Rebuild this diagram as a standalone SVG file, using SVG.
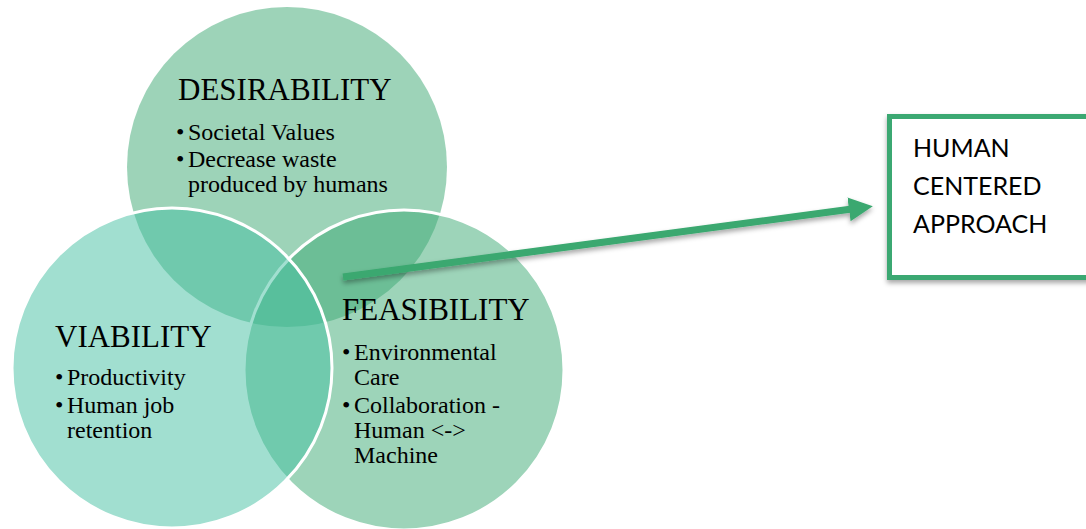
<svg xmlns="http://www.w3.org/2000/svg" width="1086" height="529" viewBox="0 0 1086 529">
  <defs>
    <style>
      .venn { fill-opacity: 0.5; }
      .edge { stroke: #ffffff; stroke-width: 3; }
      .title { font-family: "Liberation Serif", "Times New Roman", serif; font-size: 31px; fill: #000000; }
      .item { font-family: "Liberation Serif", "Times New Roman", serif; font-size: 24px; fill: #000000; }
      .box-text { font-family: Lato, "Liberation Sans", sans-serif; font-size: 25px; fill: #000000; }
    </style>
    <filter id="soft-shadow" x="-10%" y="-30%" width="120%" height="160%">
      <feDropShadow dx="0" dy="3" stdDeviation="2.5" flood-color="#000000" flood-opacity="0.35"/>
    </filter>
    <marker id="arrow-head" viewBox="0 0 24 24" markerWidth="24" markerHeight="24" markerUnits="userSpaceOnUse" refX="1" refY="12" orient="auto">
      <path d="M0,0 L24,12 L0,24 Z" fill="#3aa86f"/>
    </marker>
  </defs>

  <!-- Top circle -->
  <g id="desirability">
    <circle class="venn" cx="287" cy="167" r="160" fill="#3ba771"/>
    <text class="title" x="178" y="100">DESIRABILITY</text>
    <text class="item" x="176" y="140">•</text>
    <text class="item" x="188" y="140">Societal Values</text>
    <text class="item" x="176" y="167">•</text>
    <text class="item" x="188" y="167">Decrease waste</text>
    <text class="item" x="188" y="192">produced by humans</text>
  </g>

  <!-- Lower right circle -->
  <g id="feasibility">
    <circle class="venn edge" cx="404" cy="370" r="160" fill="#3ba973"/>
    <text class="title" x="342" y="320">FEASIBILITY</text>
    <text class="item" x="342" y="360">•</text>
    <text class="item" x="354" y="360">Environmental</text>
    <text class="item" x="354" y="385">Care</text>
    <text class="item" x="342" y="413">•</text>
    <text class="item" x="354" y="413">Collaboration -</text>
    <text class="item" x="354" y="438">Human &lt;-&gt;</text>
    <text class="item" x="354" y="463">Machine</text>
  </g>

  <!-- Lower left circle -->
  <g id="viability">
    <circle class="venn edge" cx="172" cy="368" r="160" fill="#43bfa1"/>
    <text class="title" x="55" y="347">VIABILITY</text>
    <text class="item" x="55" y="385">•</text>
    <text class="item" x="67" y="385">Productivity</text>
    <text class="item" x="55" y="413">•</text>
    <text class="item" x="67" y="413">Human job</text>
    <text class="item" x="67" y="438">retention</text>
  </g>

  <!-- Connectors -->
  <g id="connectors">
    <path d="M343,277 L850,209.2" fill="none" stroke="#3aa86f" stroke-width="7" marker-end="url(#arrow-head)" filter="url(#soft-shadow)"/>
  </g>

  <!-- Result box -->
  <g id="human-centered-approach">
    <rect x="889.5" y="116.5" width="210" height="161" fill="#ffffff" stroke="#3aa872" stroke-width="5" filter="url(#soft-shadow)"/>
    <text class="box-text" x="913" y="157">HUMAN</text>
    <text class="box-text" x="913" y="195">CENTERED</text>
    <text class="box-text" x="913" y="233">APPROACH</text>
  </g>
</svg>
